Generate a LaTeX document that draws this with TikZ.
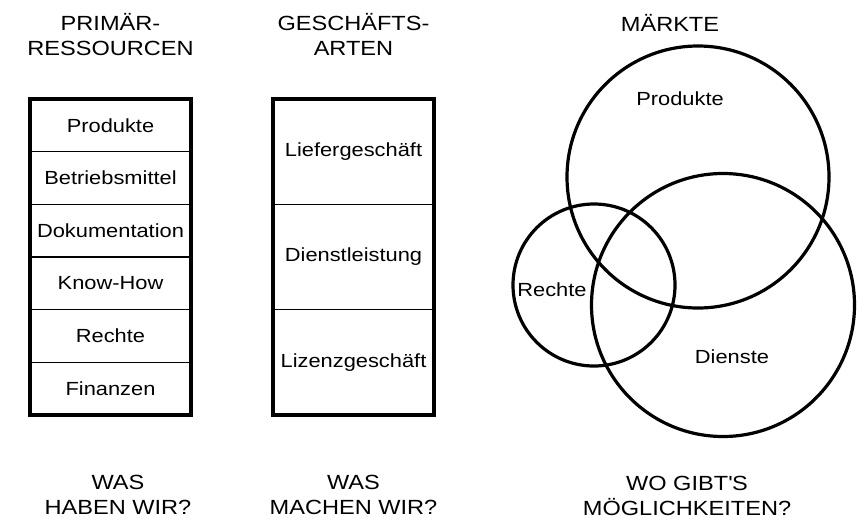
\documentclass[tikz,border=0pt]{standalone}
\usepackage{fontspec}
\setmainfont{Liberation Sans}[FakeStretch=1.15]
\usepackage{tikz}
\usepackage{xcolor}
\definecolor{mktInk}{HTML}{000000}
\tikzset{
  headtext/.style={align=center, inner sep=0pt, text=mktInk, font=\fontsize{20.5}{25.5}\selectfont},
  bodytext/.style={inner sep=0pt, text=mktInk, font=\fontsize{19}{23}\selectfont},
  rowbox/.style={bodytext, draw=mktInk, line width=1.6pt, outer sep=0pt, minimum width=161pt},
  framebox/.style={draw=mktInk, line width=4pt, line join=miter},
  ring/.style={circle, draw=mktInk, line width=3.2pt, inner sep=0pt, outer sep=0pt}
}

\begin{document}
\begin{tikzpicture}[x=1pt,y=-1pt]
  \useasboundingbox (0,0) rectangle (861,528);
  % Primaerressourcen
  \node[headtext] (resTitle) at (110.5,34.5) {PRIMÄR-\\RESSOURCEN};
  \node[rowbox, minimum height=52.67pt] (resProdukte) at (110.5,125.3) {Produkte};
  \node[rowbox, minimum height=52.67pt] (resBetrieb) at (110.5,178) {Betriebsmittel};
  \node[rowbox, minimum height=52.67pt] (resDoku) at (110.5,230.7) {Dokumentation};
  \node[rowbox, minimum height=52.67pt] (resKnow) at (110.5,283.3) {Know-How};
  \node[rowbox, minimum height=52.67pt] (resRechte) at (110.5,336) {Rechte};
  \node[rowbox, minimum height=52.67pt] (resFinanzen) at (110.5,388.7) {Finanzen};
  \draw[framebox] (resProdukte.north west) rectangle (resFinanzen.south east);
  \node[headtext] (resFrage) at (118,495) {WAS\\HABEN WIR?};
  % Geschaeftsarten
  \node[headtext] (artTitle) at (353.5,34.5) {GESCHÄFTS-\\ARTEN};
  \node[rowbox, minimum height=105.33pt] (artLiefer) at (353.5,151.7) {Liefergeschäft};
  \node[rowbox, minimum height=105.33pt] (artDienst) at (353.5,257) {Dienstleistung};
  \node[rowbox, minimum height=105.33pt] (artLizenz) at (353.5,362.3) {Lizenzgeschäft};
  \draw[framebox] (artLiefer.north west) rectangle (artLizenz.south east);
  \node[headtext] (artFrage) at (353.5,495) {WAS\\MACHEN WIR?};
  % Maerkte
  \node[headtext] (mktTitle) at (670,23) {MÄRKTE};
  \node[ring, minimum size=262pt] (mktProdukte) at (698,177) {};
  \node[ring, minimum size=162pt] (mktRechte) at (594,285) {};
  \node[ring, minimum size=263pt] (mktDienste) at (723,305) {};
  \node[bodytext] (lblProdukte) at (680,99) {Produkte};
  \node[bodytext] (lblRechte) at (552,290) {Rechte};
  \node[bodytext] (lblDienste) at (732,357) {Dienste};
  \node[headtext] (mktFrage) at (687,496) {WO GIBT\textquotesingle S\\MÖGLICHKEITEN?};
\end{tikzpicture}
\end{document}
